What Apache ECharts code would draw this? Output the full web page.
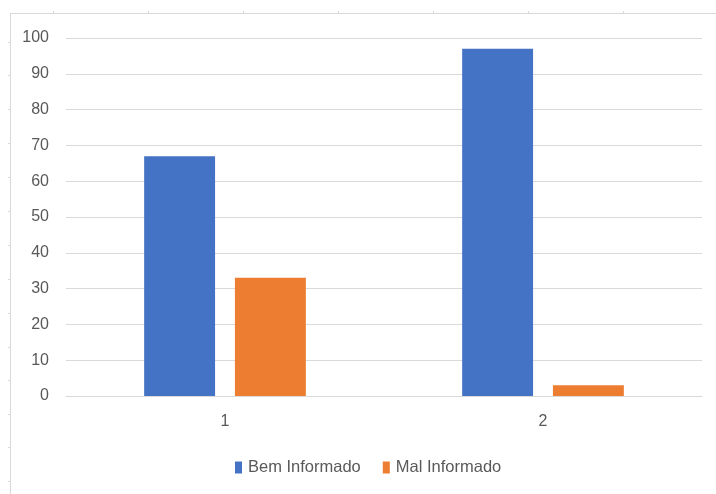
<!DOCTYPE html>
<html>
<head>
<meta charset="utf-8">
<script src="https://cdn.jsdelivr.net/npm/echarts@6/dist/echarts.min.js"></script>
<style>
  html, body { margin: 0; padding: 0; background: #ffffff; }
  #chart { width: 716px; height: 494px; }
</style>
</head>
<body>
<div id="chart"></div>
<script>
// Survey categories and the two response groups
const categories = ['1', '2'];
const bemInformado = [67, 97];
const malInformado = [33, 3];
const seriesNames = ['Bem Informado', 'Mal Informado'];

const FONT = '"Liberation Sans Narrow", "Liberation Sans", Arial, sans-serif';
const TEXT = '#595959';
const GRID = '#d9d9d9';

// Outer sheet frame: top edge and left edge with small ruler ticks
const frame = [
  { type: 'line', shape: { x1: 10, y1: 13.5, x2: 716, y2: 13.5 }, style: { stroke: GRID, lineWidth: 1 } },
  { type: 'line', shape: { x1: 10.5, y1: 13, x2: 10.5, y2: 494 }, style: { stroke: GRID, lineWidth: 1 } }
];
[53, 148, 243, 338, 433, 528, 623].forEach(x => {
  frame.push({ type: 'line', shape: { x1: x + 0.5, y1: 11, x2: x + 0.5, y2: 13 }, style: { stroke: GRID, lineWidth: 1 } });
});
[42, 75, 109, 143, 177, 211, 245, 279, 313, 347, 380, 414, 447, 481].forEach(y => {
  frame.push({ type: 'line', shape: { x1: 8, y1: y + 0.5, x2: 10, y2: y + 0.5 }, style: { stroke: GRID, lineWidth: 1 } });
});

const chart = echarts.init(document.getElementById('chart'), null, { renderer: 'canvas' });
chart.setOption({
  animation: false,
  backgroundColor: '#ffffff',
  textStyle: { fontFamily: FONT },
  graphic: frame,
  grid: { left: 66, right: 14, top: 38, bottom: 98, containLabel: false },
  legend: {
    data: seriesNames,
    bottom: 13,
    left: 230,
    icon: 'rect',
    itemWidth: 7,
    itemHeight: 12,
    itemGap: 22,
    textStyle: { color: TEXT, fontSize: 16.5, fontFamily: FONT, padding: [0, 0, 0, 1] }
  },
  xAxis: {
    type: 'category',
    data: categories,
    axisLine: { show: true, lineStyle: { color: GRID, width: 1 } },
    axisTick: { show: false },
    axisLabel: { color: TEXT, fontSize: 16, fontFamily: FONT, margin: 18 }
  },
  yAxis: {
    type: 'value',
    min: 0,
    max: 100,
    interval: 10,
    axisLine: { show: false },
    axisTick: { show: false },
    axisLabel: { color: TEXT, fontSize: 16, fontFamily: FONT, margin: 17 },
    splitLine: { lineStyle: { color: GRID, width: 1 } }
  },
  series: [
    {
      name: seriesNames[0],
      type: 'bar',
      data: bemInformado,
      barWidth: '22.3%',
      barGap: '28%',
      itemStyle: { color: '#4472c4' }
    },
    {
      name: seriesNames[1],
      type: 'bar',
      data: malInformado,
      barWidth: '22.3%',
      itemStyle: { color: '#ed7d31' }
    }
  ]
});
</script>
</body>
</html>
